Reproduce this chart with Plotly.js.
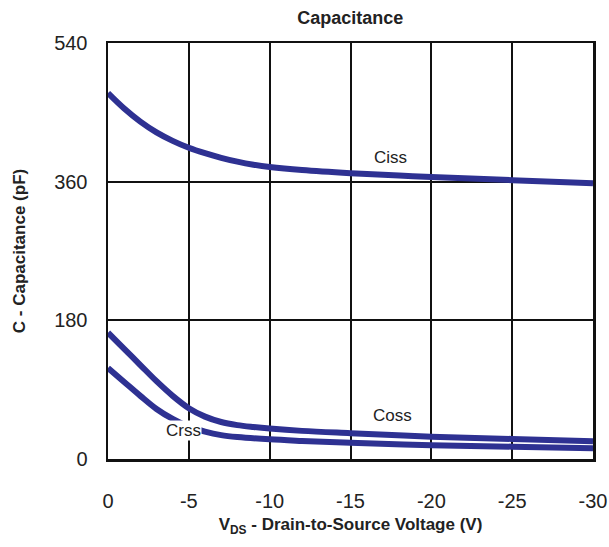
<!DOCTYPE html>
<html>
<head>
<meta charset="utf-8">
<script src="https://cdn.plot.ly/plotly-3.0.1.min.js"></script>
<style>html,body{margin:0;padding:0;background:#fff;}#chart{width:609px;height:547px;}</style>
</head>
<body>
<div id="chart"></div>
<script>
// Data
var cissV = [0, -1, -2, -3, -4, -5, -6, -7, -8, -9, -10, -12, -15, -18, -20, -25, -30];
var cissC = [475, 455, 438, 424, 413, 404, 397, 391, 386, 382, 379, 375, 371, 368, 366, 362, 358];

var cossV = [0, -1, -2, -3, -4, -5, -6, -7, -8, -9, -10, -12, -15, -20, -25, -30];
var cossC = [164, 143, 122, 101, 82, 66, 55, 48, 44, 41.5, 39.5, 36.5, 33.5, 29, 26, 23];

var crssV = [0, -1, -2, -3, -4, -5, -6, -7, -8, -10, -12, -15, -20, -25, -30];
var crssC = [118, 100, 82, 65, 52, 42, 35.5, 31, 28.5, 25.5, 23.5, 21, 18, 16, 14];

var xTicks = [0, -5, -10, -15, -20, -25, -30];
var yTicks = [0, 180, 360, 540];

var lineColor = '#2e3192';
var font = 'Liberation Sans, Arial, sans-serif';

function tr(x, y) {
  return {x: x, y: y, mode: 'lines', type: 'scatter',
    line: {color: lineColor, width: 6, shape: 'spline', smoothing: 1},
    hoverinfo: 'skip', showlegend: false};
}

var data = [tr(cissV, cissC), tr(cossV, cossC), tr(crssV, crssC)];

var layout = {
  width: 609, height: 547,
  margin: {l: 108, r: 16, t: 43, b: 88},
  paper_bgcolor: '#fff', plot_bgcolor: '#fff',
  font: {family: font, color: '#222'},
  title: {text: '<b>Capacitance</b>', font: {size: 18, family: font, color: '#222'},
          x: 0.575, xanchor: 'center', y: 0.967, yanchor: 'middle'},
  xaxis: {
    range: [0, -30], tickvals: xTicks, ticktext: xTicks.map(String),
    showgrid: true, gridcolor: '#111', gridwidth: 2,
    showline: true, linecolor: '#111', linewidth: 2.5, mirror: true,
    zeroline: false, ticks: '', ticklabelstandoff: 22,
    tickfont: {size: 20, family: font, color: '#222'},
    title: {text: '<b>V<sub>DS</sub> - Drain-to-Source Voltage (V)</b>',
            font: {size: 17, family: font, color: '#222'}, standoff: 8}
  },
  yaxis: {
    range: [0, 540], tickvals: yTicks, ticktext: yTicks.map(String),
    showgrid: true, gridcolor: '#111', gridwidth: 2,
    showline: true, linecolor: '#111', linewidth: 2.5, mirror: true,
    zeroline: false, ticks: '', ticklabelstandoff: 14,
    tickfont: {size: 20, family: font, color: '#222'},
    title: {text: '<b>C - Capacitance (pF)</b>',
            font: {size: 17, family: font, color: '#222'}, standoff: 24}
  },
  annotations: [
    {x: -17.5, y: 391, text: 'Ciss', showarrow: false, font: {size: 17, family: font, color: '#222'}},
    {x: -17.6, y: 56, text: 'Coss', showarrow: false, font: {size: 17, family: font, color: '#222'}},
    {x: -4.64, y: 37, text: 'Crss', showarrow: false, bgcolor: '#fff', borderpad: 0,
     font: {size: 17, family: font, color: '#222'}}
  ]
};

Plotly.newPlot('chart', data, layout, {displayModeBar: false, staticPlot: true});
</script>
</body>
</html>
